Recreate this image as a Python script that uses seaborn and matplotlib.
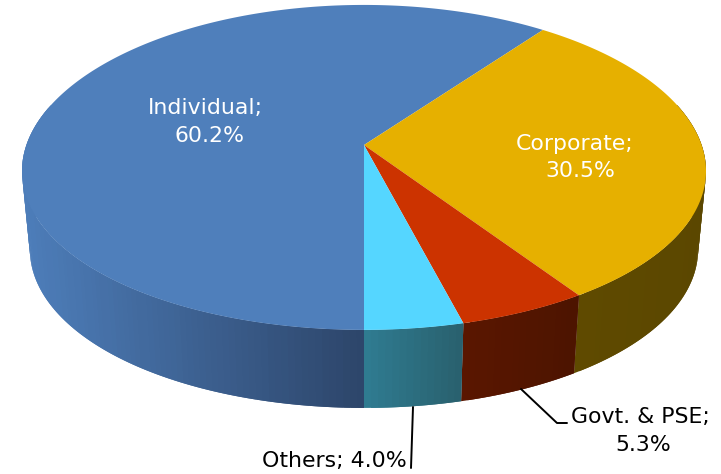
import numpy as np
import matplotlib
matplotlib.use('Agg')
import matplotlib.pyplot as plt
from matplotlib.path import Path
from matplotlib.transforms import Transform
import seaborn as sns

# data
categories = ['Individual', 'Corporate', 'Govt. & PSE', 'Others']
shares = [60.2, 30.5, 5.3, 4.0]
top_colors = ['#4f7fbb', '#e6b000', '#cc3300', '#55d6ff']
side_left = ['#4d7db9', '#5f4a00', '#5a1600', '#2f7b90']
side_right = ['#2c4468', '#5b4700', '#4c1400', '#295f6c']

sns.set_style('white')
plt.rcParams['font.family'] = ['DejaVu Sans']

# shape of the tilted disc, in pixels
CX, CY = 364, 145
A, B = 337.6, 159.4
KX, KY = 0.16, 0.138
DEPTH = 78
LOW_SCALE = 0.977


def project(x, y, scale=1.0, dy=0.0):
    return CX + scale * A * x / (1 + KX * y), CY + dy - B * y / (1 + KY * y)


class Tilt(Transform):
    input_dims = output_dims = 2

    def transform_non_affine(self, xy):
        xy = np.asarray(xy)
        px, py = project(xy[:, 0], xy[:, 1])
        return np.column_stack([px, py])

    def transform_path_non_affine(self, path):
        # flatten the arcs first, the bezier handles do not survive the tilt
        flat = Path(path.vertices * 2000, path.codes).to_polygons(closed_only=False)[0] / 2000
        return Path(self.transform_non_affine(flat))


fig = plt.figure(figsize=(7.21, 4.74), dpi=100)
ax = fig.add_axes([0, 0, 1, 1])

wedges, _ = ax.pie(shares, colors=top_colors, startangle=270, counterclock=False,
                   radius=1.0, wedgeprops={'linewidth': 0})
ax.set_aspect('auto')
ax.set_xlim(0, 721)
ax.set_ylim(474, 0)
ax.axis('off')

tilt = Tilt()
for w in wedges:
    w.set_transform(tilt + ax.transData)
    w.set_zorder(5)

# side wall, thin overlapping strips under each wedge, shaded by x
for w, c0, c1 in zip(wedges, side_left, side_right):
    for shift in (-360, 0, 360):
        s0 = max(w.theta1 + shift, 165)
        s1 = min(w.theta2 + shift, 375)
        if s1 <= s0:
            continue
        n = max(int((s1 - s0) / 1.0), 2)
        edges = np.radians(np.linspace(s0, s1, n + 1))
        xs = project(np.cos(edges), np.sin(edges))[0]
        frac = (xs - xs.min()) / (xs.max() - xs.min())
        pal = sns.blend_palette([c0, c1], 64)
        # draw from the ends of the arc to the middle so each strip covers the seam
        for i in range(n):
            j = min(i + 2, n)
            t = np.linspace(edges[i], edges[j], 4)
            xt, yt = project(np.cos(t), np.sin(t))
            xb, yb = project(np.cos(t), np.sin(t), LOW_SCALE, DEPTH)
            ax.fill(np.r_[xt, xb[::-1]], np.r_[yt, yb[::-1]],
                    color=pal[int(frac[i] * 63)], linewidth=0, zorder=2)

# text
fs = 15.8
ax.text(205, 108, 'Individual;', color='white', fontsize=fs, ha='center', va='center', zorder=6)
ax.text(209, 136, '60.2%', color='white', fontsize=fs, ha='center', va='center', zorder=6)
ax.text(575, 144, 'Corporate;', color='white', fontsize=fs, ha='center', va='center', zorder=6)
ax.text(580, 171, '30.5%', color='white', fontsize=fs, ha='center', va='center', zorder=6)
ax.text(640, 417, 'Govt. & PSE;', color='black', fontsize=fs, ha='center', va='center', zorder=6)
ax.text(643, 445, '5.3%', color='black', fontsize=fs, ha='center', va='center', zorder=6)
ax.text(334, 461, 'Others; 4.0%', color='black', fontsize=fs, ha='center', va='center', zorder=6)

# leader lines
ax.plot([521, 557, 567], [389, 423, 423], color='black', lw=1.4, zorder=6)
ax.plot([413, 411], [407, 468], color='black', lw=1.4, zorder=6)

fig.savefig('out.png', dpi=100)
